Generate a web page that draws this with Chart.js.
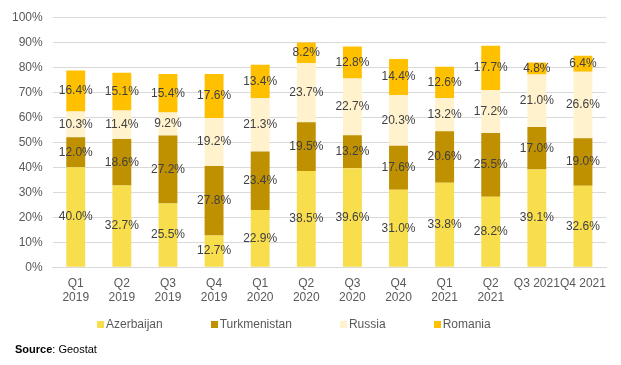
<!DOCTYPE html>
<html>
<head>
<meta charset="utf-8">
<script src="https://cdn.jsdelivr.net/npm/chart.js@4.4.0/dist/chart.umd.min.js"></script>
<style>
  body { margin: 0; background: #fff; font-family: "Liberation Sans", Arial, sans-serif; }
  #wrap { position: relative; width: 621px; height: 365px; }
  #legend { position: absolute; top: 317px; left: 97px; display: flex; font-size: 12px; color: #595959; }
  #legend span.item { display: flex; align-items: center; margin-right: 48px; }
  #legend span.box { display: inline-block; width: 7px; height: 7px; margin-right: 2px; }
  #source { position: absolute; top: 343px; left: 15px; font-size: 11px; color: #000; }
</style>
</head>
<body>
<div id="wrap">
  <canvas id="chart" width="621" height="365"></canvas>
  <div id="legend"></div>
  <div id="source"><b>Source</b>: Geostat</div>
</div>
<script>
// DATA
const quarters = [
  ["Q1", "2019"], ["Q2", "2019"], ["Q3", "2019"], ["Q4", "2019"],
  ["Q1", "2020"], ["Q2", "2020"], ["Q3", "2020"], ["Q4", "2020"],
  ["Q1", "2021"], ["Q2", "2021"], "Q3 2021", "Q4 2021"
];
const azerbaijan   = [40.0, 32.7, 25.5, 12.7, 22.9, 38.5, 39.6, 31.0, 33.8, 28.2, 39.1, 32.6];
const turkmenistan = [12.0, 18.6, 27.2, 27.8, 23.4, 19.5, 13.2, 17.6, 20.6, 25.5, 17.0, 19.0];
const russia       = [10.3, 11.4,  9.2, 19.2, 21.3, 23.7, 22.7, 20.3, 13.2, 17.2, 21.0, 26.6];
const romania      = [16.4, 15.1, 15.4, 17.6, 13.4,  8.2, 12.8, 14.4, 12.6, 17.7,  4.8,  6.4];
const yTicks = [0, 10, 20, 30, 40, 50, 60, 70, 80, 90, 100];

const FONT = "'Liberation Sans', Arial, sans-serif";

const series = [
  { label: "Azerbaijan",   data: azerbaijan,   color: "#F8DE4C" },
  { label: "Turkmenistan", data: turkmenistan, color: "#BF9000" },
  { label: "Russia",       data: russia,       color: "#FFF2CC" },
  { label: "Romania",      data: romania,      color: "#FFC000" },
];

// Value labels in the middle of every segment
const segmentLabels = {
  id: "segmentLabels",
  afterDatasetsDraw(chart) {
    const ctx = chart.ctx;
    ctx.save();
    ctx.font = "12px " + FONT;
    ctx.fillStyle = "#404040";
    ctx.textAlign = "center";
    ctx.textBaseline = "middle";
    chart.data.datasets.forEach((ds, i) => {
      chart.getDatasetMeta(i).data.forEach((bar, j) => {
        const y = (bar.y + bar.base) / 2;
        ctx.fillText(ds.data[j].toFixed(1) + "%", bar.x, y);
      });
    });
    ctx.restore();
  }
};

new Chart(document.getElementById("chart"), {
  type: "bar",
  data: {
    labels: quarters,
    datasets: series.map(s => ({
      label: s.label,
      data: s.data,
      backgroundColor: s.color,
      borderWidth: 0,
      categoryPercentage: 1,
      barPercentage: 0.41,
    })),
  },
  options: {
    responsive: false,
    animation: false,
    layout: { padding: { top: 11, left: 2, right: 15, bottom: 59 } },
    plugins: {
      legend: { display: false },
      tooltip: { enabled: false },
    },
    scales: {
      x: {
        stacked: true,
        grid: { display: false },
        border: { color: "#D9D9D9" },
        ticks: { color: "#595959", font: { family: FONT, size: 12 }, maxRotation: 0, autoSkip: false, padding: 1 },
      },
      y: {
        stacked: true,
        min: 0,
        max: 100,
        afterBuildTicks: axis => { axis.ticks = yTicks.map(v => ({ value: v })); },
        grid: { color: "#D9D9D9", drawTicks: false },
        border: { display: false },
        ticks: { color: "#595959", font: { family: FONT, size: 12 }, padding: 10, callback: v => v + "%" },
      },
    },
  },
  plugins: [segmentLabels],
});

// LEGEND
const legend = document.getElementById("legend");
series.forEach(s => {
  const item = document.createElement("span");
  item.className = "item";
  item.innerHTML = '<span class="box" style="background:' + s.color + '"></span>' + s.label;
  legend.appendChild(item);
});
</script>
</body>
</html>
